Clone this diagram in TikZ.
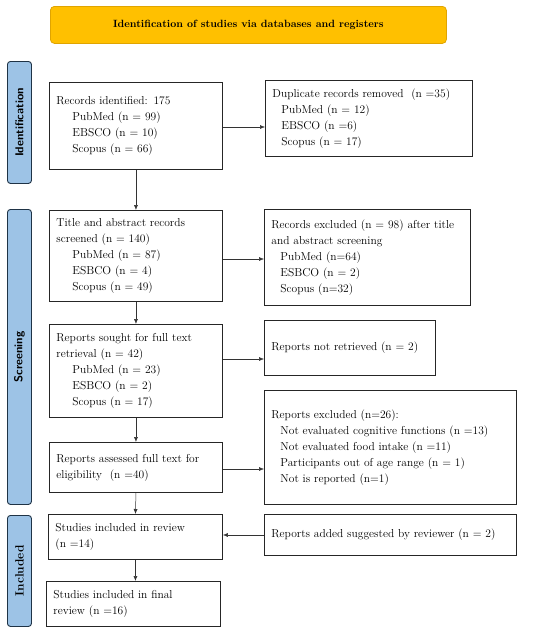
\documentclass[tikz,border=0pt]{standalone}
\usetikzlibrary{arrows.meta}
\definecolor{titlefill}{HTML}{FFC000}
\definecolor{titledraw}{HTML}{E0A400}
\definecolor{sidefill}{HTML}{9DC3E6}
\definecolor{sidedraw}{HTML}{1F3346}
\tikzset{
  box/.style={draw=black!85, line width=0.9pt, anchor=north west, align=left, font=\fontsize{11.5}{16}\selectfont, inner xsep=7pt, inner ysep=4pt},
  side/.style={draw=sidedraw, fill=sidefill, line width=0.9pt, rounded corners=3pt, anchor=north west, minimum width=24pt},
  sidetext/.style={rotate=90, font=\fontsize{12}{13}\selectfont\bfseries},
  conn/.style={draw=black!80, line width=0.5pt, -{Latex[length=5pt,width=4pt]}},
}
\newcommand{\ind}{\hspace*{16pt}}
\newcommand{\indb}{\hspace*{9pt}}
\begin{document}
\begin{tikzpicture}[x=1pt,y=-1pt]
\useasboundingbox (0,0) rectangle (550,632);
% title
\node[draw=titledraw, fill=titlefill, line width=0.8pt, rounded corners=4pt, anchor=north west, minimum width=396pt, minimum height=37pt, font=\fontsize{10.5}{12}\selectfont\bfseries] (title) at (50,6) {Identification of studies via databases and registers};
% side labels
\node[side, minimum height=122pt] (sid) at (7,61) {};
\node[sidetext, font=\fontsize{11.5}{13}\selectfont\sffamily\bfseries] (sidt) at (sid.center) {Identification};
\node[side, minimum height=295pt] (sscr) at (7,209) {};
\node[sidetext, font=\fontsize{11.5}{13}\selectfont\sffamily\bfseries] (sscrt) at (sscr.center) {Screening};
\node[side, minimum height=111pt] (sinc) at (7,515) {};
\node[sidetext] (sinct) at (sinc.center) {Included};
% left column
\node[box, minimum width=173pt, minimum height=87pt, text width=159pt] (b1) at (49,82) {Records identified: 175\\\ind PubMed (n = 99)\\\ind EBSCO (n = 10)\\\ind Scopus (n = 66)\\[4pt]};
\node[box, minimum width=173pt, minimum height=91pt, text width=159pt] (b2) at (49,210) {Title and abstract records\\screened (n = 140)\\\ind PubMed (n = 87)\\\ind ESBCO (n = 4)\\\ind Scopus (n = 49)};
\node[box, minimum width=173pt, minimum height=93pt, text width=159pt] (b3) at (49,324) {Reports sought for full text\\retrieval (n = 42)\\\ind PubMed (n = 23)\\\ind ESBCO (n = 2)\\\ind Scopus (n = 17)};
\node[box, minimum width=173pt, minimum height=50pt, text width=159pt] (b4) at (49,442) {Reports assessed full text for\\eligibility~ (n =40)};
\node[box, minimum width=174pt, minimum height=45pt, text width=160pt] (b5) at (48,514) {Studies included in review\\(n =14)};
\node[box, minimum width=174pt, minimum height=45pt, text width=160pt] (b6) at (46,581) {Studies included in final\\review (n =16)};
% right column
\node[box, minimum width=207pt, minimum height=76pt, text width=193pt] (r1) at (265,80) {Duplicate records removed~ (n =35)\\\indb PubMed (n = 12)\\\indb EBSCO (n =6)\\\indb Scopus (n = 17)};
\node[box, minimum width=206pt, minimum height=96pt, text width=192pt] (r2) at (264,209) {Records excluded (n = 98) after title\\and abstract screening\\\indb PubMed (n=64)\\\indb ESBCO (n = 2)\\\indb Scopus (n=32)};
\node[box, minimum width=171pt, minimum height=55pt, text width=157pt] (r3) at (264,320) {Reports not retrieved (n = 2)};
\node[box, minimum width=252pt, minimum height=114pt, text width=238pt] (r4) at (264,390) {Reports excluded (n=26):\\\indb Not evaluated cognitive functions (n =13)\\\indb Not evaluated food intake (n =11)\\\indb Participants out of age range (n = 1)\\\indb Not is reported (n=1)\\[4pt]};
\node[box, minimum width=252pt, minimum height=41pt, text width=238pt] (r5) at (264,514) {Reports added suggested by reviewer (n = 2)};
% vertical connectors
\draw[conn] (b1.south) -- (b2.north);
\draw[conn] (b2.south) -- (b3.north);
\draw[conn] (b3.south) -- (b4.north);
\draw[conn] (b4.south) -- (b5.north);
\draw[conn] (b5.south) -- (b6.north -| b5.south);
% horizontal connectors
\draw[conn] (b1.east |- 0,127) -- (r1.west |- 0,127);
\draw[conn] (b2.east |- 0,259) -- (r2.west |- 0,259);
\draw[conn] (b3.east |- 0,359) -- (r3.west |- 0,359);
\draw[conn] (b4.east |- 0,469) -- (r4.west |- 0,469);
\draw[conn] (r5.west |- 0,535) -- (b5.east |- 0,535);
\end{tikzpicture}
\end{document}
